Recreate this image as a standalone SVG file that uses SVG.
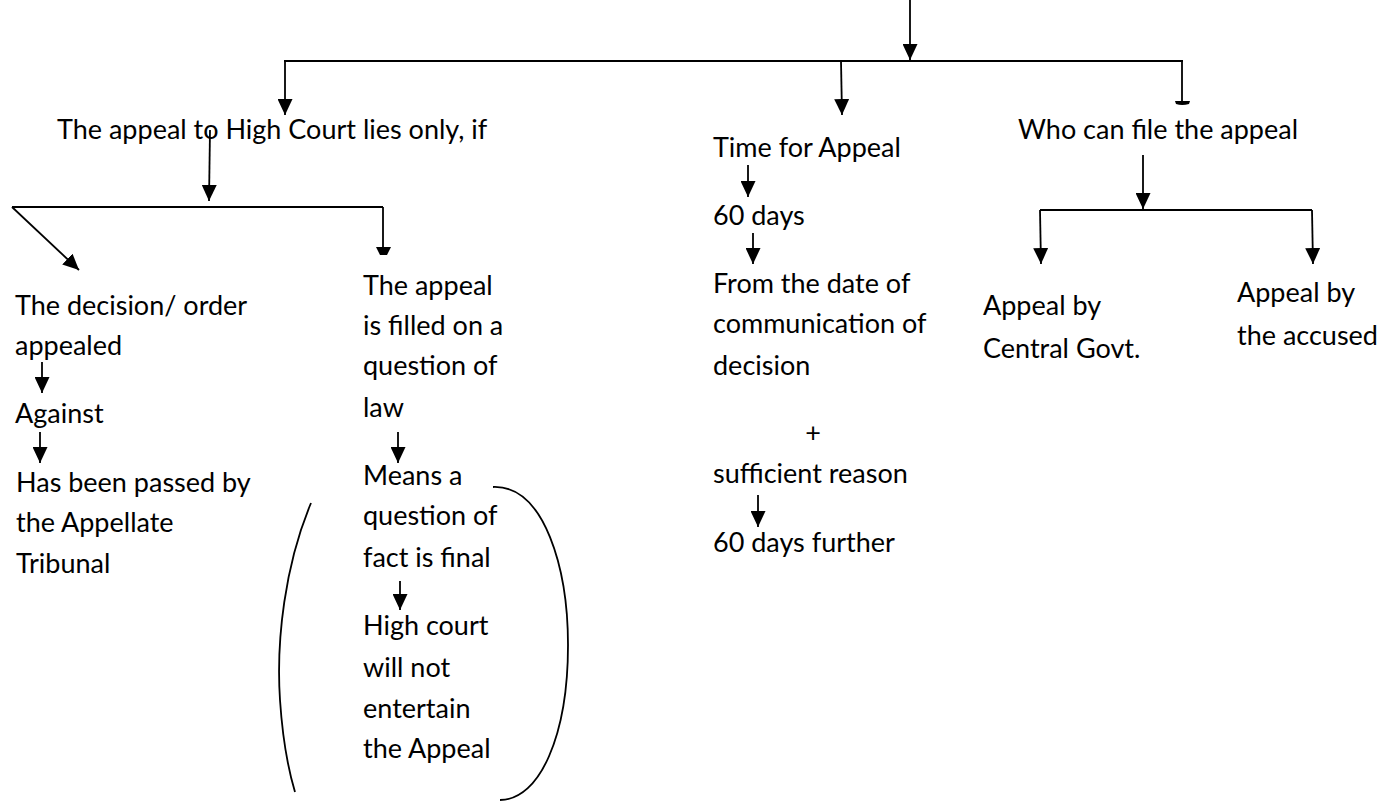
<svg xmlns="http://www.w3.org/2000/svg" width="1383" height="802" viewBox="0 0 1383 802">
  <style>
    text { font-family: Lato, "Liberation Sans", sans-serif; font-size: 27px; fill: #000; }
    .ln { stroke: #000; stroke-width: 1.8; fill: none; }
    .ar { stroke: #000; stroke-width: 1.8; fill: none; marker-end: url(#head); }
    .cap { fill: #000; stroke: none; }
  </style>
  <defs>
    <marker id="head" viewBox="0 0 16 15" refX="16" refY="7.5" markerWidth="16" markerHeight="15" markerUnits="userSpaceOnUse" orient="auto">
      <path d="M0,0 L16,7.5 L0,15 Z" fill="#000"/>
    </marker>
  </defs>

  <!-- connectors -->
  <g id="connectors">
    <!-- main split -->
    <line class="ar" x1="910" y1="0" x2="910" y2="60"/>
    <line class="ln" x1="284" y1="61" x2="1183" y2="61"/>
    <line class="ar" x1="285" y1="61" x2="285" y2="115"/>
    <line class="ar" x1="841" y1="61" x2="842" y2="115"/>
    <line class="ln" x1="1182" y1="61" x2="1182" y2="102"/>
    <path class="cap" d="M1175,101 L1190,101 L1189,104 Q1182,106 1176,104 Z"/>

    <!-- High Court branch -->
    <line class="ar" x1="210" y1="130" x2="209" y2="201"/>
    <line class="ln" x1="12" y1="207" x2="383" y2="207"/>
    <line class="ar" x1="12" y1="207" x2="79" y2="270"/>
    <line class="ln" x1="383" y1="207" x2="383" y2="248"/>
    <path class="cap" d="M376,247 L391,247 L387,255 L380,255 Z"/>

    <!-- left column -->
    <line class="ar" x1="42" y1="362" x2="42" y2="393"/>
    <line class="ar" x1="40" y1="432" x2="40" y2="463"/>

    <!-- question of law column -->
    <line class="ar" x1="398" y1="432" x2="398" y2="463"/>
    <line class="ar" x1="400" y1="581" x2="400" y2="610"/>
    <path class="ln" d="M311,503 C285,565 276,640 280,700 C283,745 289,772 295,792"/>
    <path class="ln" d="M493,487 C545,485 568,570 568,645 C568,735 540,800 500,800"/>

    <!-- time column -->
    <line class="ar" x1="748" y1="165" x2="748" y2="197"/>
    <line class="ar" x1="753" y1="233" x2="753" y2="264"/>
    <line class="ar" x1="758" y1="495" x2="758" y2="527"/>

    <!-- who can file branch -->
    <line class="ar" x1="1143" y1="155" x2="1143" y2="209"/>
    <line class="ln" x1="1040" y1="210" x2="1312" y2="210"/>
    <line class="ar" x1="1040" y1="210" x2="1041" y2="264"/>
    <line class="ar" x1="1312" y1="210" x2="1313" y2="264"/>
  </g>

  <g id="node-high-court">
    <text x="57" y="139">The appeal to High Court lies only, if</text>
  </g>
  <g id="node-decision">
    <text x="15" y="315">The decision/ order</text>
    <text x="15" y="355">appealed</text>
  </g>
  <g id="node-against">
    <text x="15" y="423">Against</text>
  </g>
  <g id="node-passed-by">
    <text x="16" y="492">Has been passed by</text>
    <text x="16" y="532">the Appellate</text>
    <text x="16" y="573">Tribunal</text>
  </g>
  <g id="node-question-law">
    <text x="363" y="295">The appeal</text>
    <text x="363" y="335">is filled on a</text>
    <text x="363" y="375">question of</text>
    <text x="363" y="417">law</text>
  </g>
  <g id="node-fact-final">
    <text x="363" y="485">Means a</text>
    <text x="363" y="525">question of</text>
    <text x="363" y="567">fact is final</text>
  </g>
  <g id="node-not-entertain">
    <text x="363" y="635">High court</text>
    <text x="363" y="677">will not</text>
    <text x="363" y="718">entertain</text>
    <text x="363" y="758">the Appeal</text>
  </g>
  <g id="node-time">
    <text x="713" y="157">Time for Appeal</text>
  </g>
  <g id="node-60-days">
    <text x="713" y="225">60 days</text>
  </g>
  <g id="node-from-date">
    <text x="713" y="293">From the date of</text>
    <text x="713" y="333">communication of</text>
    <text x="713" y="375">decision</text>
    <text x="813" y="442" text-anchor="middle">+</text>
    <text x="713" y="483">sufficient reason</text>
  </g>
  <g id="node-60-further">
    <text x="713" y="552">60 days further</text>
  </g>
  <g id="node-who">
    <text x="1018" y="139">Who can file the appeal</text>
  </g>
  <g id="node-central-govt">
    <text x="983" y="315">Appeal by</text>
    <text x="983" y="358">Central Govt.</text>
  </g>
  <g id="node-accused">
    <text x="1237" y="302">Appeal by</text>
    <text x="1237" y="345">the accused</text>
  </g>
</svg>
